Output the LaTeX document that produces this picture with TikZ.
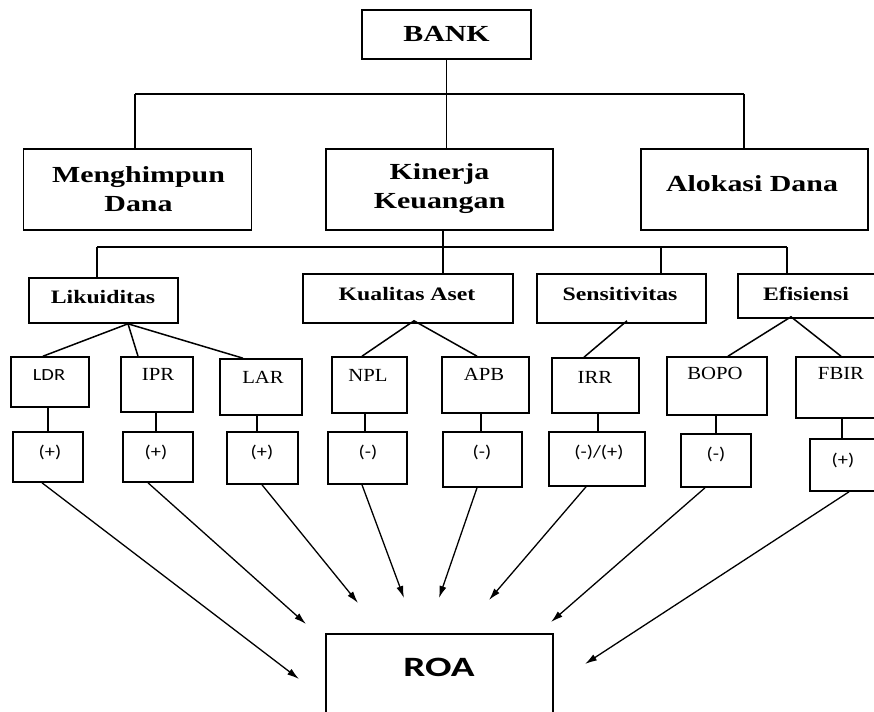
\documentclass[tikz,border=0pt]{standalone}
\usepackage{fontspec}
\setmainfont{Liberation Serif}
\newfontfamily\topserif{Liberation Serif}[FakeStretch=1.3]
\newfontfamily\midserif{Liberation Serif}[FakeStretch=1.25]
\newfontfamily\labserif{Liberation Serif}[FakeStretch=1.12]
\newfontfamily\sansc{Carlito}[FakeStretch=1.2]
\newfontfamily\sansroa{Carlito}[FakeStretch=1.4]
\usetikzlibrary{arrows.meta}
\begin{document}
\begin{tikzpicture}[x=1pt,y=-1pt,line width=1.5pt,
  box/.style={draw,rectangle,inner sep=0pt,line width=1.6pt},
  toptxt/.style={font=\topserif\bfseries\fontsize{23}{29}\selectfont,align=center,inner sep=0pt},
  midtxt/.style={font=\midserif\bfseries\fontsize{19}{21}\selectfont,inner sep=0pt},
  labtxt/.style={font=\labserif\fontsize{18.5}{20}\selectfont,inner sep=0pt},
  sanstxt/.style={font=\sansc\fontsize{17}{19}\selectfont,inner sep=0pt},
  roatxt/.style={font=\sansroa\bfseries\fontsize{28}{30}\selectfont,inner sep=0pt},
  arr/.style={line width=1.3pt,-{Latex[length=12pt,width=7pt]}}]
\useasboundingbox (0,0) rectangle (874,711);
% top level
\node[box,minimum width=169pt,minimum height=49pt] (bank) at (446.5,34.5) {};
\node[box,minimum width=228pt,minimum height=81pt] (mdana) at (137.5,189.5) {};
\node[box,minimum width=227pt,minimum height=81pt] (kinerja) at (439.5,189.5) {};
\node[box,minimum width=227pt,minimum height=81pt] (alokasi) at (754.5,189.5) {};
\node[toptxt] (tbank) at (446.5,34) {BANK};
\node[toptxt] (tmdana) at (138.5,189) {Menghimpun\\Dana};
\node[toptxt] (tkinerja) at (439.5,189) {Kinerja\\Keuangan};
\node[toptxt] (talokasi) at (752,184) {Alokasi Dana};
% second level
\node[box,minimum width=149pt,minimum height=45pt] (likuid) at (103.5,300.5) {};
\node[box,minimum width=210pt,minimum height=49pt] (kualitas) at (408,298.5) {};
\node[box,minimum width=169pt,minimum height=49pt] (sensit) at (621.5,298.5) {};
\node[box,minimum width=142pt,minimum height=44pt] (efis) at (809,296) {};
\node[midtxt] (tlikuid) at (103,297) {Likuiditas};
\node[midtxt] (tkualitas) at (407,294) {Kualitas Aset};
\node[midtxt] (tsensit) at (620,294) {Sensitivitas};
\node[midtxt] (tefis) at (806,294) {Efisiensi};
% third level
\node[box,minimum width=78pt,minimum height=50pt] (ldr) at (50,382) {};
\node[box,minimum width=72pt,minimum height=55pt] (ipr) at (157,384.5) {};
\node[box,minimum width=82pt,minimum height=56pt] (lar) at (261,387) {};
\node[box,minimum width=75pt,minimum height=56pt] (npl) at (369.5,385) {};
\node[box,minimum width=87pt,minimum height=56pt] (apb) at (485.5,385) {};
\node[box,minimum width=87pt,minimum height=55pt] (irr) at (595.5,385.5) {};
\node[box,minimum width=100pt,minimum height=58pt] (bopo) at (717,386) {};
\node[box,minimum width=84pt,minimum height=61pt] (fbir) at (838,387.5) {};
\node[sanstxt] (tldr) at (49,375) {LDR};
\node[labtxt] (tipr) at (158,374) {IPR};
\node[labtxt] (tlar) at (263,377) {LAR};
\node[labtxt] (tnpl) at (368,375) {NPL};
\node[labtxt] (tapb) at (484,374) {APB};
\node[labtxt] (tirr) at (595,377) {IRR};
\node[labtxt] (tbopo) at (715,373) {BOPO};
\node[labtxt] (tfbir) at (841,373) {FBIR};
% fourth level
\node[box,minimum width=70pt,minimum height=50pt] (s1) at (48,457) {};
\node[box,minimum width=70pt,minimum height=50pt] (s2) at (158,457) {};
\node[box,minimum width=71pt,minimum height=52pt] (s3) at (262.5,458) {};
\node[box,minimum width=79pt,minimum height=52pt] (s4) at (367.5,458) {};
\node[box,minimum width=79pt,minimum height=55pt] (s5) at (482.5,459.5) {};
\node[box,minimum width=96pt,minimum height=54pt] (s6) at (597,459) {};
\node[box,minimum width=70pt,minimum height=53pt] (s7) at (716,460.5) {};
\node[box,minimum width=70pt,minimum height=52pt] (s8) at (845,465) {};
\node[sanstxt] (ts1) at (50,452) {(+)};
\node[sanstxt] (ts2) at (156,452) {(+)};
\node[sanstxt] (ts3) at (262,452) {(+)};
\node[sanstxt] (ts4) at (368,452) {(-)};
\node[sanstxt] (ts5) at (482,452) {(-)};
\node[sanstxt] (ts6) at (599,452) {(-)/(+)};
\node[sanstxt] (ts7) at (716,454) {(-)};
\node[sanstxt] (ts8) at (843,460) {(+)};
% ROA
\node[box,minimum width=227pt,minimum height=82pt] (roa) at (439.5,675) {};
\node[roatxt] (troa) at (439,667) {ROA};
% connectors top
\coordinate (h1l) at (135,94);
\coordinate (h1r) at (744,94);
\draw (bank.south) -- (bank.south |- h1l);
\draw (h1l) -- (h1r);
\draw (h1l) -- (h1l |- mdana.north);
\draw (bank.south |- h1l) -- (bank.south |- kinerja.north);
\draw (h1r) -- (h1r |- alokasi.north);
% connectors second
\coordinate (h2l) at (97,247);
\coordinate (h2r) at (787,247);
\coordinate (k2) at (443,247);
\coordinate (sd) at (661,247);
\draw (kinerja.south -| k2) -- (k2);
\draw (h2l) -- (h2r);
\draw (h2l) -- (h2l |- likuid.north);
\draw (k2) -- (k2 |- kualitas.north);
\draw (sd) -- (sd |- sensit.north);
\draw (h2r) -- (h2r |- efis.north);
% tree lines
\draw (ldr.north -| 43,0) -- (likuid.south -| 128,0) -- (ipr.north -| 138,0);
\draw (likuid.south -| 128,0) -- (lar.north -| 243,0);
\draw (npl.north -| 362,0) -- ([yshift=3pt]kualitas.south -| 414,0) -- (apb.north -| 477,0);
\draw (irr.north -| 584,0) -- ([yshift=3pt]sensit.south -| 627,0);
\draw (bopo.north -| 728,0) -- ([yshift=2pt]efis.south -| 791,0) -- (fbir.north -| 841,0);
% verticals
\draw (ldr.south -| 48,0) -- (s1.north -| 48,0);
\draw (ipr.south -| 156,0) -- (s2.north -| 156,0);
\draw (lar.south -| 257,0) -- (s3.north -| 257,0);
\draw (npl.south -| 365,0) -- (s4.north -| 365,0);
\draw (apb.south -| 481,0) -- (s5.north -| 481,0);
\draw (irr.south -| 598,0) -- (s6.north -| 598,0);
\draw (bopo.south -| 716,0) -- (s7.north -| 716,0);
\draw (fbir.south -| 842,0) -- (s8.north -| 842,0);
% arrows
\coordinate (a1) at (299,679);
\coordinate (a2) at (306,624);
\coordinate (a3) at (358,603);
\coordinate (a4) at (404,598);
\coordinate (a5) at (439,598);
\coordinate (a6) at (489,600);
\coordinate (a7) at (551,622);
\coordinate (a8) at (585,664);
\draw[arr] (s1.south -| 42,0) -- (a1);
\draw[arr] (s2.south -| 148,0) -- (a2);
\draw[arr] (s3.south -| 262,0) -- (a3);
\draw[arr] (s4.south -| 362,0) -- (a4);
\draw[arr] (s5.south -| 477,0) -- (a5);
\draw[arr] (s6.south -| 586,0) -- (a6);
\draw[arr] (s7.south -| 705,0) -- (a7);
\draw[arr] (s8.south -| 849,0) -- (a8);
\end{tikzpicture}
\end{document}
